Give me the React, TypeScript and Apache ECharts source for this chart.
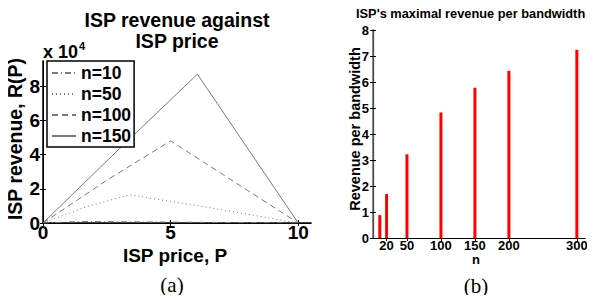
import React, { useEffect, useRef } from "react";
import * as echarts from "echarts";

// Left panel: ISP revenue vs price (points [P, R])
const priceN10: number[][] = [[0, 0], [1.5, 900], [10, 0]];
const priceN50: number[][] = [[0, 0], [1.7, 9500], [3.4, 16500], [6.5, 9000], [10, 0]];
const priceN100: number[][] = [[0, 0], [2.5, 25000], [5.0, 48000], [7.5, 24000], [10, 0]];
const priceN150: number[][] = [[0, 0], [3.0, 43500], [6.05, 87000], [8.0, 44000], [10, 0]];
const legendNames = ["n=10", "n=50", "n=100", "n=150"];
const leftXTicks = [0, 5, 10];
const leftYTicks = [0, 20000, 40000, 60000, 80000];

// Right panel: maximal revenue per bandwidth
const nValues = [10, 20, 50, 100, 150, 200, 300];
const maxRevPerBw = [0.88, 1.69, 3.22, 4.83, 5.78, 6.43, 7.24];
const rightXTicks = [20, 50, 100, 150, 200, 300];

const F = "'Liberation Sans', Arial, Helvetica, sans-serif";
const SERIF = "'Liberation Serif', 'DejaVu Serif', serif";

export default function App() {
  const ref = useRef<HTMLDivElement>(null);
  useEffect(() => {
    if (!ref.current) return;
    const chart = echarts.init(ref.current, undefined, { renderer: "svg" });
    const gray = "#7a7a7a";
    const lineSeries = (name: string, data: number[][], type: any) => ({
      name,
      type: "line",
      xAxisIndex: 0,
      yAxisIndex: 0,
      data,
      symbol: "none",
      lineStyle: { color: gray, width: 1, type },
      itemStyle: { color: gray },
      z: 2,
    });
    const hidden = { show: false };
    chart.setOption({
      animation: false,
      backgroundColor: "#ffffff",
      grid: [
        { left: 43, top: 61, width: 268, height: 162 },
        { left: 373, top: 30, width: 212, height: 208 },
      ],
      xAxis: [
        {
          gridIndex: 0, type: "value", min: 0, max: 10.5, position: "bottom",
          splitLine: hidden,
          axisLine: { lineStyle: { color: "#000", width: 1.5 } },
          axisTick: { inside: true, length: 3, customValues: leftXTicks, lineStyle: { color: "#000" } },
          axisLabel: { customValues: leftXTicks, color: "#000", fontFamily: F, fontWeight: "bold", fontSize: 19, margin: 0 },
        },
        {
          gridIndex: 0, type: "value", min: 0, max: 10.5, position: "top",
          splitLine: hidden,
          axisLine: { lineStyle: { color: "#000", width: 1 } },
          axisTick: { inside: true, length: 3, customValues: leftXTicks, lineStyle: { color: "#000" } },
          axisLabel: hidden,
        },
        {
          gridIndex: 1, type: "value", min: 0, max: 312, position: "bottom",
          splitLine: hidden,
          axisLine: { lineStyle: { color: "#000", width: 1.2 } },
          axisTick: { inside: true, length: 3, customValues: rightXTicks, lineStyle: { color: "#000" } },
          axisLabel: { customValues: rightXTicks, color: "#000", fontFamily: F, fontWeight: "bold", fontSize: 13, margin: 1 },
        },
        {
          gridIndex: 1, type: "value", min: 0, max: 312, position: "top",
          splitLine: hidden,
          axisLine: { lineStyle: { color: "#000", width: 1 } },
          axisTick: { inside: true, length: 3, customValues: rightXTicks, lineStyle: { color: "#000" } },
          axisLabel: hidden,
        },
      ],
      yAxis: [
        {
          gridIndex: 0, type: "value", min: 0, max: 94700, position: "left",
          splitLine: hidden,
          axisLine: { show: true, lineStyle: { color: "#000", width: 1.5 } },
          axisTick: { show: true, inside: true, length: 3, customValues: leftYTicks, lineStyle: { color: "#000" } },
          axisLabel: {
            customValues: leftYTicks, color: "#000", fontFamily: F, fontWeight: "bold", fontSize: 19, margin: 3,
            formatter: (v: number) => String(v / 10000),
          },
        },
        {
          gridIndex: 0, type: "value", min: 0, max: 94700, position: "right",
          splitLine: hidden,
          axisLine: { show: true, lineStyle: { color: "#000", width: 1 } },
          axisTick: { show: true, inside: true, length: 3, customValues: leftYTicks, lineStyle: { color: "#000" } },
          axisLabel: hidden,
        },
        {
          gridIndex: 1, type: "value", min: 0, max: 8, interval: 1, position: "left",
          splitLine: hidden,
          axisLine: { show: true, lineStyle: { color: "#000", width: 1.2 } },
          axisTick: { show: true, inside: true, length: 3, lineStyle: { color: "#000" } },
          axisLabel: { color: "#000", fontFamily: F, fontWeight: "bold", fontSize: 13, margin: 4 },
        },
        {
          gridIndex: 1, type: "value", min: 0, max: 8, interval: 1, position: "right",
          splitLine: hidden,
          axisLine: { show: true, lineStyle: { color: "#666", width: 1.5 } },
          axisTick: { show: true, inside: true, length: 3, lineStyle: { color: "#000" } },
          axisLabel: hidden,
        },
      ],
      legend: {
        data: legendNames,
        left: 47, top: 61,
        orient: "vertical",
        backgroundColor: "#ffffff",
        borderColor: "#000",
        borderWidth: 1.5,
        borderRadius: 0,
        padding: [3, 3, 2, 4],
        itemGap: 3,
        itemWidth: 24,
        itemHeight: 14,
        itemStyle: { opacity: 0 },
        textStyle: { color: "#000", fontFamily: F, fontWeight: "bold", fontSize: 17.5, padding: [0, 0, 0, 0] },
        z: 10,
      },
      title: [
        {
          text: "ISP revenue against\nISP price", left: 172, top: 4, textAlign: "center",
          textStyle: { fontFamily: F, fontWeight: "bold", fontSize: 19.5, lineHeight: 21, color: "#000" },
        },
      ],
      graphic: [
        {
          type: "text", x: 356, y: 13,
          style: {
            text: "ISP's maximal revenue per bandwidth", fontFamily: F, fontWeight: "bold", fontSize: 12.8, fill: "#000",
            align: "left", verticalAlign: "middle",
          },
        },
        {
          type: "text", left: 43, top: 40,
          style: {
            text: "{a|x 10}{b|4}",
            rich: {
              a: { fontFamily: F, fontWeight: "bold", fontSize: 18, fill: "#000", verticalAlign: "bottom" },
              b: { fontFamily: F, fontWeight: "bold", fontSize: 11, fill: "#000", verticalAlign: "top", padding: [0, 0, 10, 1] },
            },
          },
        },
        {
          type: "text", x: 15, y: 139, rotation: Math.PI / 2,
          style: {
            text: "ISP revenue, R(P)", fontFamily: F, fontWeight: "bold", fontSize: 19.5, fill: "#000",
            align: "center", verticalAlign: "middle",
          },
        },
        {
          type: "text", x: 175, y: 255,
          style: {
            text: "ISP price, P", fontFamily: F, fontWeight: "bold", fontSize: 19, fill: "#000",
            align: "center", verticalAlign: "middle",
          },
        },
        {
          type: "text", x: 172, y: 285,
          style: {
            text: "(a)", fontFamily: SERIF, fontSize: 21, fill: "#000",
            align: "center", verticalAlign: "middle",
          },
        },
        {
          type: "text", x: 355, y: 129, rotation: Math.PI / 2,
          style: {
            text: "Revenue per bandwidth", fontFamily: F, fontWeight: "bold", fontSize: 14.5, fill: "#000",
            align: "center", verticalAlign: "middle",
          },
        },
        {
          type: "text", x: 476, y: 259,
          style: {
            text: "n", fontFamily: F, fontWeight: "bold", fontSize: 13, fill: "#000",
            align: "center", verticalAlign: "middle",
          },
        },
        {
          type: "text", x: 476, y: 286,
          style: {
            text: "(b)", fontFamily: SERIF, fontSize: 21, fill: "#000",
            align: "center", verticalAlign: "middle",
          },
        },
      ],
      series: [
        lineSeries(legendNames[0], priceN10, [6, 3, 1, 3]),
        lineSeries(legendNames[1], priceN50, [1, 3]),
        lineSeries(legendNames[2], priceN100, [6, 4]),
        lineSeries(legendNames[3], priceN150, "solid"),
        {
          name: "maxrev",
          type: "bar",
          xAxisIndex: 2,
          yAxisIndex: 2,
          data: nValues.map((n, i) => [n, maxRevPerBw[i]]),
          barWidth: 3,
          itemStyle: { color: "#ff0000" },
        },
      ],
    });
    return () => chart.dispose();
  }, []);
  return <div ref={ref} style={{ width: 595, height: 303, margin: -8 }} />;
}
